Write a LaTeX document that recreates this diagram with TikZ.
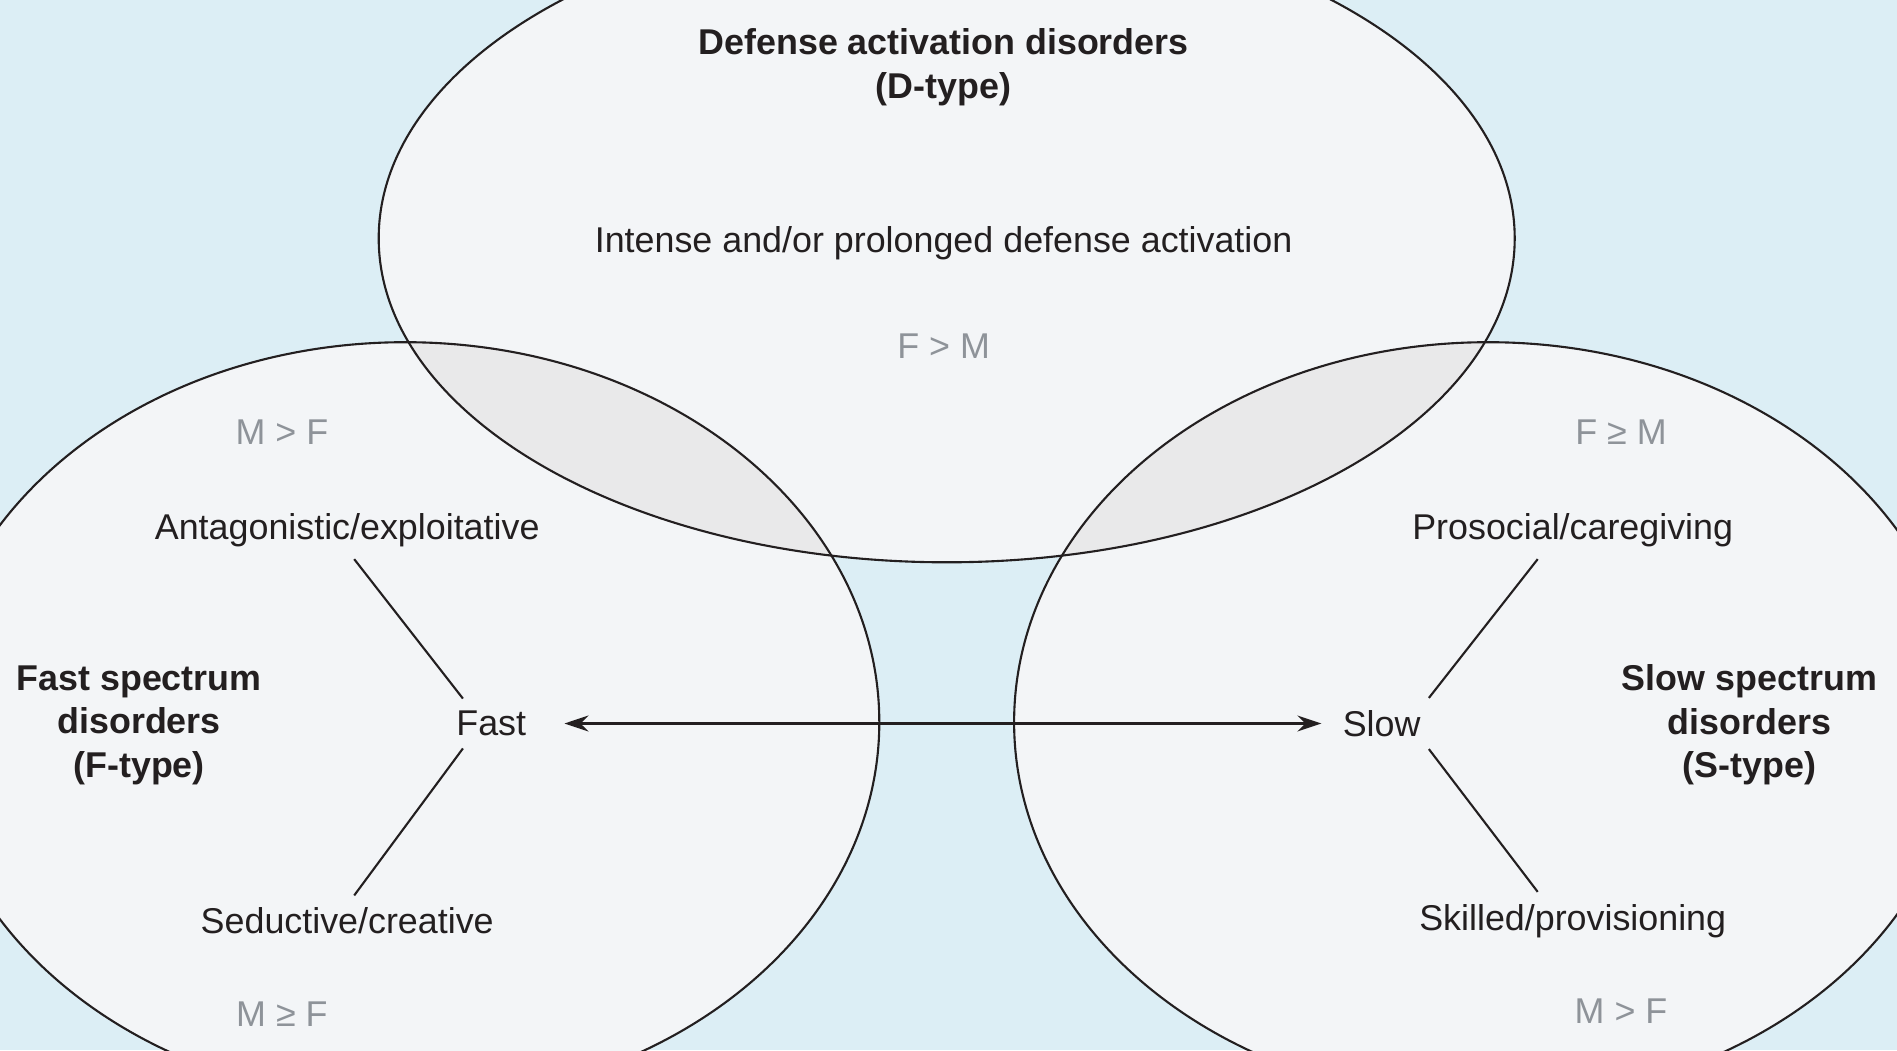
\documentclass[tikz,border=0pt]{standalone}
\usepackage{fontspec}
\setmainfont{Liberation Sans}
\usetikzlibrary{arrows.meta}
\definecolor{bgblue}{HTML}{DCEEF5}
\definecolor{ovalfill}{HTML}{F3F5F7}
\definecolor{lensfill}{HTML}{E9E9EA}
\definecolor{ratiogrey}{HTML}{8E9399}
\definecolor{inkblack}{HTML}{231F20}

\begin{document}
\begin{tikzpicture}[every node/.style={align=center, text=inkblack,
      font=\fontsize{10.2}{12.4}\selectfont},
      title/.style={font=\fontsize{10.2}{12.4}\selectfont\bfseries},
      ratio/.style={text=ratiogrey},
      oval/.style={draw=inkblack, line width=0.6pt},
      link/.style={draw=inkblack, line width=0.6pt}]
\useasboundingbox (0,0) rectangle (18.97,10.5);
\clip (0,0) rectangle (18.97,10.5);
\fill[bgblue] (0,0) rectangle (18.97,10.5);
% the three ovals
\fill[ovalfill] (9.467,8.117) ellipse [x radius=5.68, y radius=3.24];
\fill[ovalfill] (4.053,3.278) ellipse [x radius=4.74, y radius=3.80];
\fill[ovalfill] (14.881,3.278) ellipse [x radius=4.74, y radius=3.80];
\begin{scope}
  \clip (9.467,8.117) ellipse [x radius=5.68, y radius=3.24];
  \fill[lensfill] (4.053,3.278) ellipse [x radius=4.74, y radius=3.80];
  \fill[lensfill] (14.881,3.278) ellipse [x radius=4.74, y radius=3.80];
\end{scope}
\draw[oval] (9.467,8.117) ellipse [x radius=5.68, y radius=3.24];
\draw[oval] (4.053,3.278) ellipse [x radius=4.74, y radius=3.80];
\draw[oval] (14.881,3.278) ellipse [x radius=4.74, y radius=3.80];

% D-type
\node[title] (dtype) at (9.436,9.83) {Defense activation disorders\\(D-type)};
\node (intense) at (9.436,8.072) {Intense and/or prolonged defense activation};
\node[ratio] (fm) at (9.436,7.04) {F > M};

% F-type
\node[title] (ftype) at (1.391,3.25) {Fast spectrum\\disorders\\(F-type)};
\node[ratio] (mf) at (2.819,6.181) {M > F};
\node (antag) at (3.472,5.2) {Antagonistic/exploitative};
\node (fast) at (4.912,3.265) {Fast};
\node (seduct) at (3.472,1.29) {Seductive/creative};
\node[ratio] (mgef) at (2.819,0.362) {M ≥ F};

% S-type
\node[title] (stype) at (17.494,3.25) {Slow spectrum\\disorders\\(S-type)};
\node[ratio] (fgem) at (16.21,6.181) {F ≥ M};
\node (prosoc) at (15.727,5.2) {Prosocial/caregiving};
\node (slow) at (13.816,3.265) {Slow};
\node (skilled) at (15.727,1.29) {Skilled/provisioning};
\node[ratio] (mf2) at (16.21,0.386) {M > F};

% connectors
\draw[link] ([xshift=0.07cm]antag.south) -- ([xshift=0.19cm]fast.north west);
\draw[link] ([xshift=0.19cm]fast.south west) -- ([xshift=0.07cm]seduct.north);
\draw[link] ([xshift=-0.35cm]prosoc.south) -- ([xshift=-0.04cm]slow.north east);
\draw[link] ([xshift=-0.04cm]slow.south east) -- ([xshift=-0.35cm]skilled.north);
\draw[link, {Stealth[length=2.4mm, width=1.6mm, inset=0.8mm]}-{Stealth[length=2.4mm, width=1.6mm, inset=0.8mm]},
  shorten <=0.26cm, shorten >=0.09cm] (fast.east) -- (slow.west);
\end{tikzpicture}
\end{document}
